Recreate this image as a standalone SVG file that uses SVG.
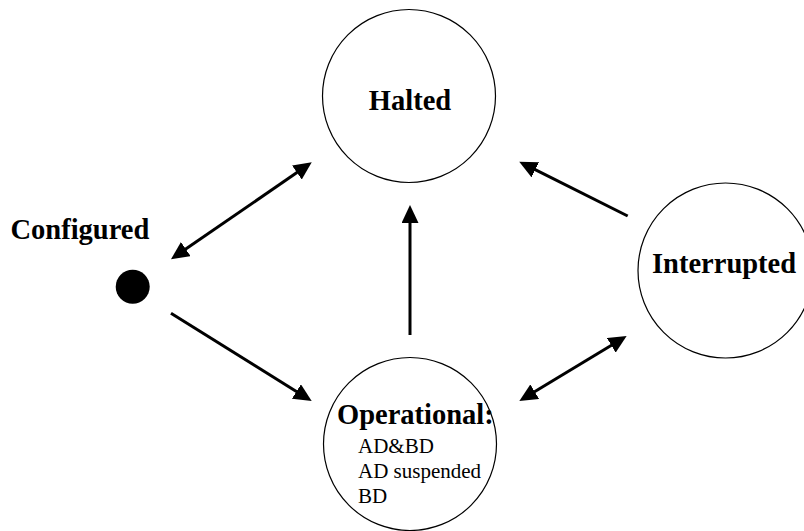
<svg xmlns="http://www.w3.org/2000/svg" width="804" height="531" viewBox="0 0 804 531">
<style>
.state{fill:#fff;stroke:#000;stroke-width:1.2}
.bold{font-family:"Liberation Serif","Times New Roman",serif;font-weight:bold;font-size:28.5px;fill:#000}
.reg{font-family:"Liberation Serif","Times New Roman",serif;font-size:21px;fill:#000}
.conn{stroke:#000;stroke-width:3;fill:none}
</style>
<defs>
<marker id="ah" markerUnits="userSpaceOnUse" markerWidth="18" markerHeight="17" refX="8" refY="8.5" orient="auto-start-reverse" viewBox="0 0 18 17">
<path d="M0,0 L18,8.5 L0,17 z" fill="#000"/>
</marker>
</defs>
<rect width="804" height="531" fill="#fff"/>
<g id="halted">
<circle class="state" cx="409" cy="96" r="86.5"/>
<text class="bold" x="410" y="110" text-anchor="middle">Halted</text>
</g>
<g id="operational">
<circle class="state" cx="410" cy="444" r="86.5"/>
<text class="bold" x="337" y="424">Operational:</text>
<text class="reg" x="358" y="453">AD&amp;BD</text>
<text class="reg" x="358" y="478">AD suspended</text>
<text class="reg" x="358" y="503">BD</text>
</g>
<g id="interrupted">
<circle class="state" cx="725.5" cy="270.5" r="87.5"/>
<text class="bold" x="652" y="273">Interrupted</text>
</g>
<g id="configured">
<circle cx="132.7" cy="286.7" r="17" fill="#000"/>
<text class="bold" x="10.5" y="239">Configured</text>
</g>
<g id="connectors">
<line class="conn" x1="179.2" y1="253.6" x2="303.5" y2="168" marker-start="url(#ah)" marker-end="url(#ah)"/>
<line class="conn" x1="171" y1="313.3" x2="303.2" y2="395.7" marker-end="url(#ah)"/>
<line class="conn" x1="410" y1="335" x2="410" y2="215" marker-end="url(#ah)"/>
<line class="conn" x1="627.7" y1="216" x2="528.2" y2="166.2" marker-end="url(#ah)"/>
<line class="conn" x1="527.9" y1="395.8" x2="618.1" y2="341.2" marker-start="url(#ah)" marker-end="url(#ah)"/>
</g>
</svg>
